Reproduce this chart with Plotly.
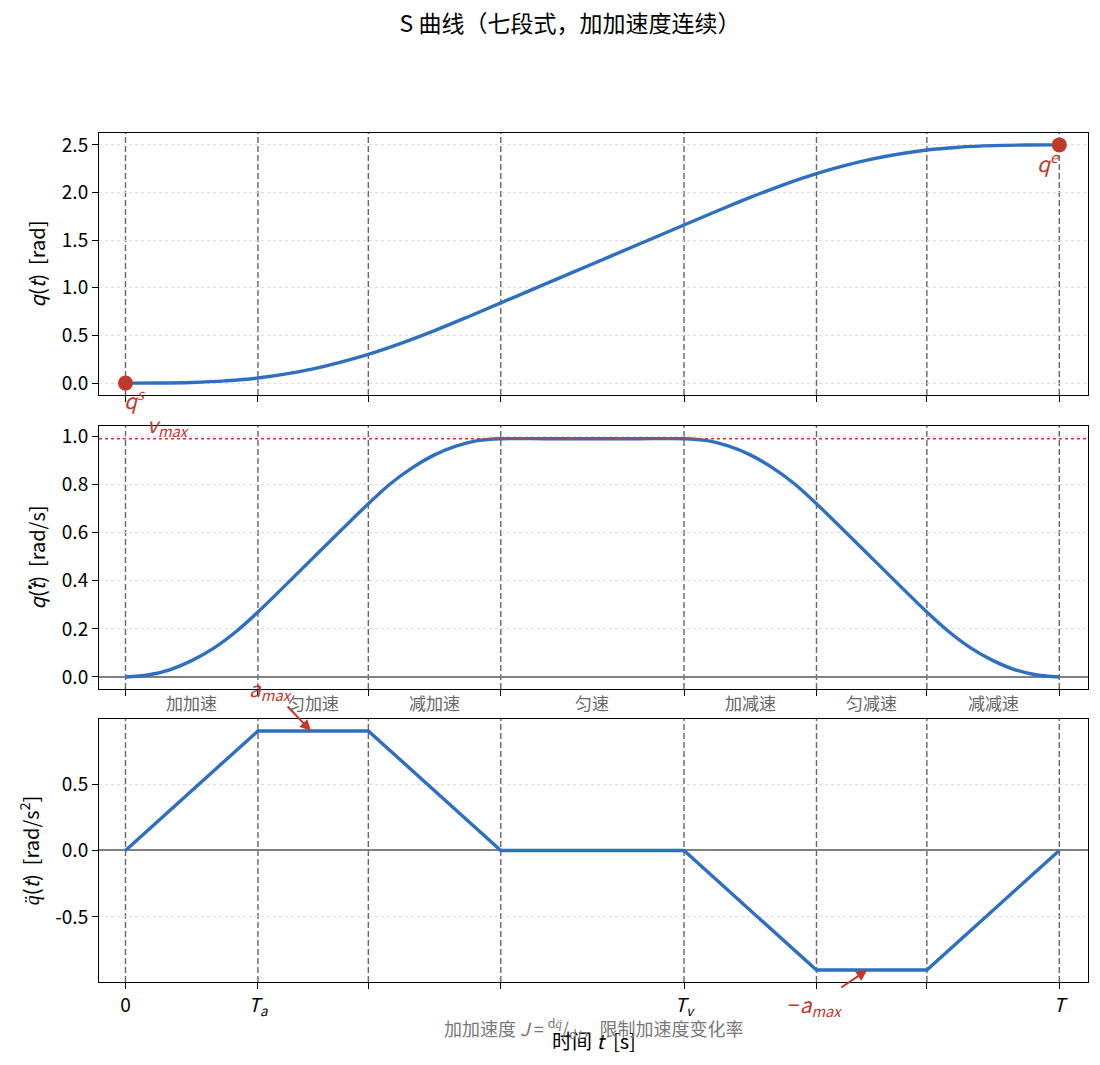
import plotly.graph_objects as go
from plotly.subplots import make_subplots

# segment boundaries of the seven-phase profile [s]
tb = [0.0, 0.60, 1.10, 1.70, 2.53, 3.13, 3.63, 4.23]
tick_text = ["0", "<i>T</i><sub><i>a</i></sub>", "", "", "<i>T</i><sub><i>v</i></sub>", "", "", "<i>T</i>"]
phase_names = ["加加速", "匀加速", "减加速", "匀速", "加减速", "匀减速", "减减速"]

# position samples
t_q = [0, 0.15, 0.3, 0.45, 0.6, 0.85, 1.1, 1.25, 1.4, 1.55, 1.7, 1.9, 2.115, 2.33, 2.53,
       2.68, 2.83, 2.98, 3.13, 3.38, 3.63, 3.78, 3.93, 4.08, 4.23]
pos = [0, 0.001, 0.007, 0.023, 0.054, 0.150, 0.302, 0.419, 0.551, 0.694, 0.842, 1.039, 1.250, 1.462, 1.659,
       1.806, 1.949, 2.081, 2.199, 2.350, 2.446, 2.477, 2.493, 2.499, 2.5]

# velocity samples
t_v = [0, 0.1, 0.2, 0.3, 0.4, 0.5, 0.6, 0.85, 1.1, 1.2, 1.3, 1.4, 1.5, 1.6, 1.7,
       1.9, 2.115, 2.33, 2.53, 2.63, 2.73, 2.83, 2.93, 3.03, 3.13, 3.38, 3.63,
       3.73, 3.83, 3.93, 4.03, 4.13, 4.23]
vel = [0, 0.008, 0.03, 0.068, 0.12, 0.188, 0.27, 0.495, 0.72, 0.803, 0.87, 0.923, 0.96, 0.983, 0.99,
       0.99, 0.99, 0.99, 0.99, 0.983, 0.96, 0.923, 0.87, 0.803, 0.72, 0.495, 0.27,
       0.188, 0.12, 0.068, 0.03, 0.008, 0]

# acceleration at the boundaries (piecewise linear)
acc = [0, 0.9, 0.9, 0, 0, -0.9, -0.9, 0]

q_start, q_end = 0.0, 2.5
v_max = 0.99
a_max = 0.9

BLUE = "#2f6fbf"
RED = "#c0392b"
GRAY = "#666666"
FONT = "Noto Sans CJK SC"

fig = make_subplots(rows=3, cols=1, shared_xaxes=True)

fig.add_trace(go.Scatter(x=t_q, y=pos, mode="lines", line=dict(color=BLUE, width=3.4, shape="spline"),
                         showlegend=False), row=1, col=1)
fig.add_trace(go.Scatter(x=[tb[0], tb[-1]], y=[q_start, q_end], mode="markers",
                         marker=dict(color=RED, size=15), cliponaxis=False, showlegend=False), row=1, col=1)
fig.add_trace(go.Scatter(x=t_v, y=vel, mode="lines",
                         line=dict(color=BLUE, width=3.4, shape="spline", smoothing=0.8),
                         showlegend=False), row=2, col=1)
fig.add_trace(go.Scatter(x=tb, y=acc, mode="lines", line=dict(color=BLUE, width=3.4),
                         showlegend=False), row=3, col=1)

# vertical dashed lines at the phase boundaries
for r in (1, 2, 3):
    for t in tb:
        fig.add_vline(x=t, line=dict(color=GRAY, width=1.4, dash="6px,3px"), layer="below", row=r, col=1)

# v_max reference
fig.add_hline(y=v_max, line=dict(color="#d03a2c", width=1.6, dash="dot"), row=2, col=1)

axis_common = dict(showline=True, mirror=True, linecolor="black", linewidth=1,
                   ticks="outside", ticklen=6, tickcolor="black", automargin=False,
                   tickfont=dict(family=FONT, size=19, color="black"))
xr = [-0.12, 4.36]
for i in (1, 2, 3):
    fig.update_xaxes(range=xr, tickvals=tb, ticktext=tick_text, showgrid=False, zeroline=False,
                     showticklabels=(i == 3), row=i, col=1, **axis_common)

grid = dict(showgrid=True, gridcolor="#dddddd", griddash="dot", gridwidth=0.8)
ytitle_font = dict(family=FONT, size=20, color="black")
fig.update_yaxes(range=[-0.125, 2.625], tickvals=[0, 0.5, 1.0, 1.5, 2.0, 2.5],
                 ticktext=["0.0", "0.5", "1.0", "1.5", "2.0", "2.5"], zeroline=False,
                 title=dict(text="<i>q</i>(<i>t</i>)  [rad]", font=ytitle_font, standoff=10),
                 row=1, col=1, **grid, **axis_common)
fig.update_yaxes(range=[-0.05, 1.043], tickvals=[0, 0.2, 0.4, 0.6, 0.8, 1.0],
                 ticktext=["0.0", "0.2", "0.4", "0.6", "0.8", "1.0"],
                 zeroline=True, zerolinecolor="#808080", zerolinewidth=1.6,
                 title=dict(text="<i>q̇</i>(<i>t</i>)  [rad/s]", font=ytitle_font, standoff=10),
                 row=2, col=1, **grid, **axis_common)
fig.update_yaxes(range=[-0.99, 0.99], tickvals=[-0.5, 0, 0.5], ticktext=["-0.5", "0.0", "0.5"],
                 zeroline=True, zerolinecolor="#808080", zerolinewidth=1.6,
                 title=dict(text="<i>q̈</i>(<i>t</i>)  [rad/s<sup>2</sup>]", font=ytitle_font, standoff=10),
                 row=3, col=1, **grid, **axis_common)

# page body keeps an 8px margin, so the figure is sized to fit inside it
W, H = 1084, 1049
fig.update_layout(
    width=W, height=H,
    margin=dict(l=91, r=4, t=125, b=75),
    plot_bgcolor="white", paper_bgcolor="white",
    font=dict(family=FONT, color="black"),
    title=dict(text="S 曲线（七段式，加加速度连续）", x=(570 - 8) / W, xref="container", xanchor="center",
               y=1 - 16 / H, yanchor="middle", automargin=False,
               font=dict(family=FONT, size=23, color="black")),
    yaxis=dict(domain=[0.6914, 1.0]),
    yaxis2=dict(domain=[0.3451, 0.6549]),
    yaxis3=dict(domain=[0.0, 0.3098]),
)

red_font = dict(family=FONT, size=21, color=RED)
# labels of start / end points
fig.add_annotation(x=tb[0], y=q_start, xref="x", yref="y", text="<i>q</i><sup><i>s</i></sup>",
                   showarrow=False, xanchor="left", yanchor="top", yshift=2, xshift=-3, font=red_font)
fig.add_annotation(x=tb[-1], y=q_end, xref="x", yref="y", text="<i>q</i><sup><i>e</i></sup>",
                   showarrow=False, xanchor="right", yanchor="top", yshift=1, xshift=3, font=red_font)
fig.add_annotation(x=0.09, y=v_max, xref="x2", yref="y2", text="<i>v</i><sub><i>max</i></sub>",
                   showarrow=False, xanchor="left", yanchor="bottom", yshift=-4, font=red_font)
fig.add_annotation(x=0.84, y=a_max, xref="x3", yref="y3", text="<i>a</i><sub><i>max</i></sub>",
                   showarrow=True, ax=-40, ay=-42, arrowhead=2, arrowsize=1.1, arrowwidth=2,
                   arrowcolor=RED, font=red_font)
fig.add_annotation(x=3.36, y=-a_max, xref="x3", yref="y3", text="−<i>a</i><sub><i>max</i></sub>",
                   showarrow=True, ax=-52, ay=35, arrowhead=2, arrowsize=1.1, arrowwidth=2,
                   arrowcolor=RED, font=red_font)

# phase names between the velocity and acceleration panels
for k, name in enumerate(phase_names):
    fig.add_annotation(x=(tb[k] + tb[k + 1]) / 2, y=(982 - 702) / 849, xref="x3", yref="paper",
                       text=name, showarrow=False, yanchor="middle",
                       font=dict(family=FONT, size=17, color=GRAY))

# x-axis title and jerk note
fig.add_annotation(x=0.5, y=(982 - 1040) / 849, xref="paper", yref="paper",
                   text="时间 <i>t</i>  [s]", showarrow=False, yanchor="middle",
                   font=dict(family=FONT, size=20, color="black"))
fig.add_annotation(x=0.5, y=(982 - 1028) / 849, xref="paper", yref="paper",
                   text="加加速度 <i>J</i> = <sup>d<i>q̈</i></sup>/<sub>d<i>t</i></sub>，限制加速度变化率",
                   showarrow=False, yanchor="middle",
                   font=dict(family=FONT, size=18, color="#777777"))

fig.write_html("out.html")
